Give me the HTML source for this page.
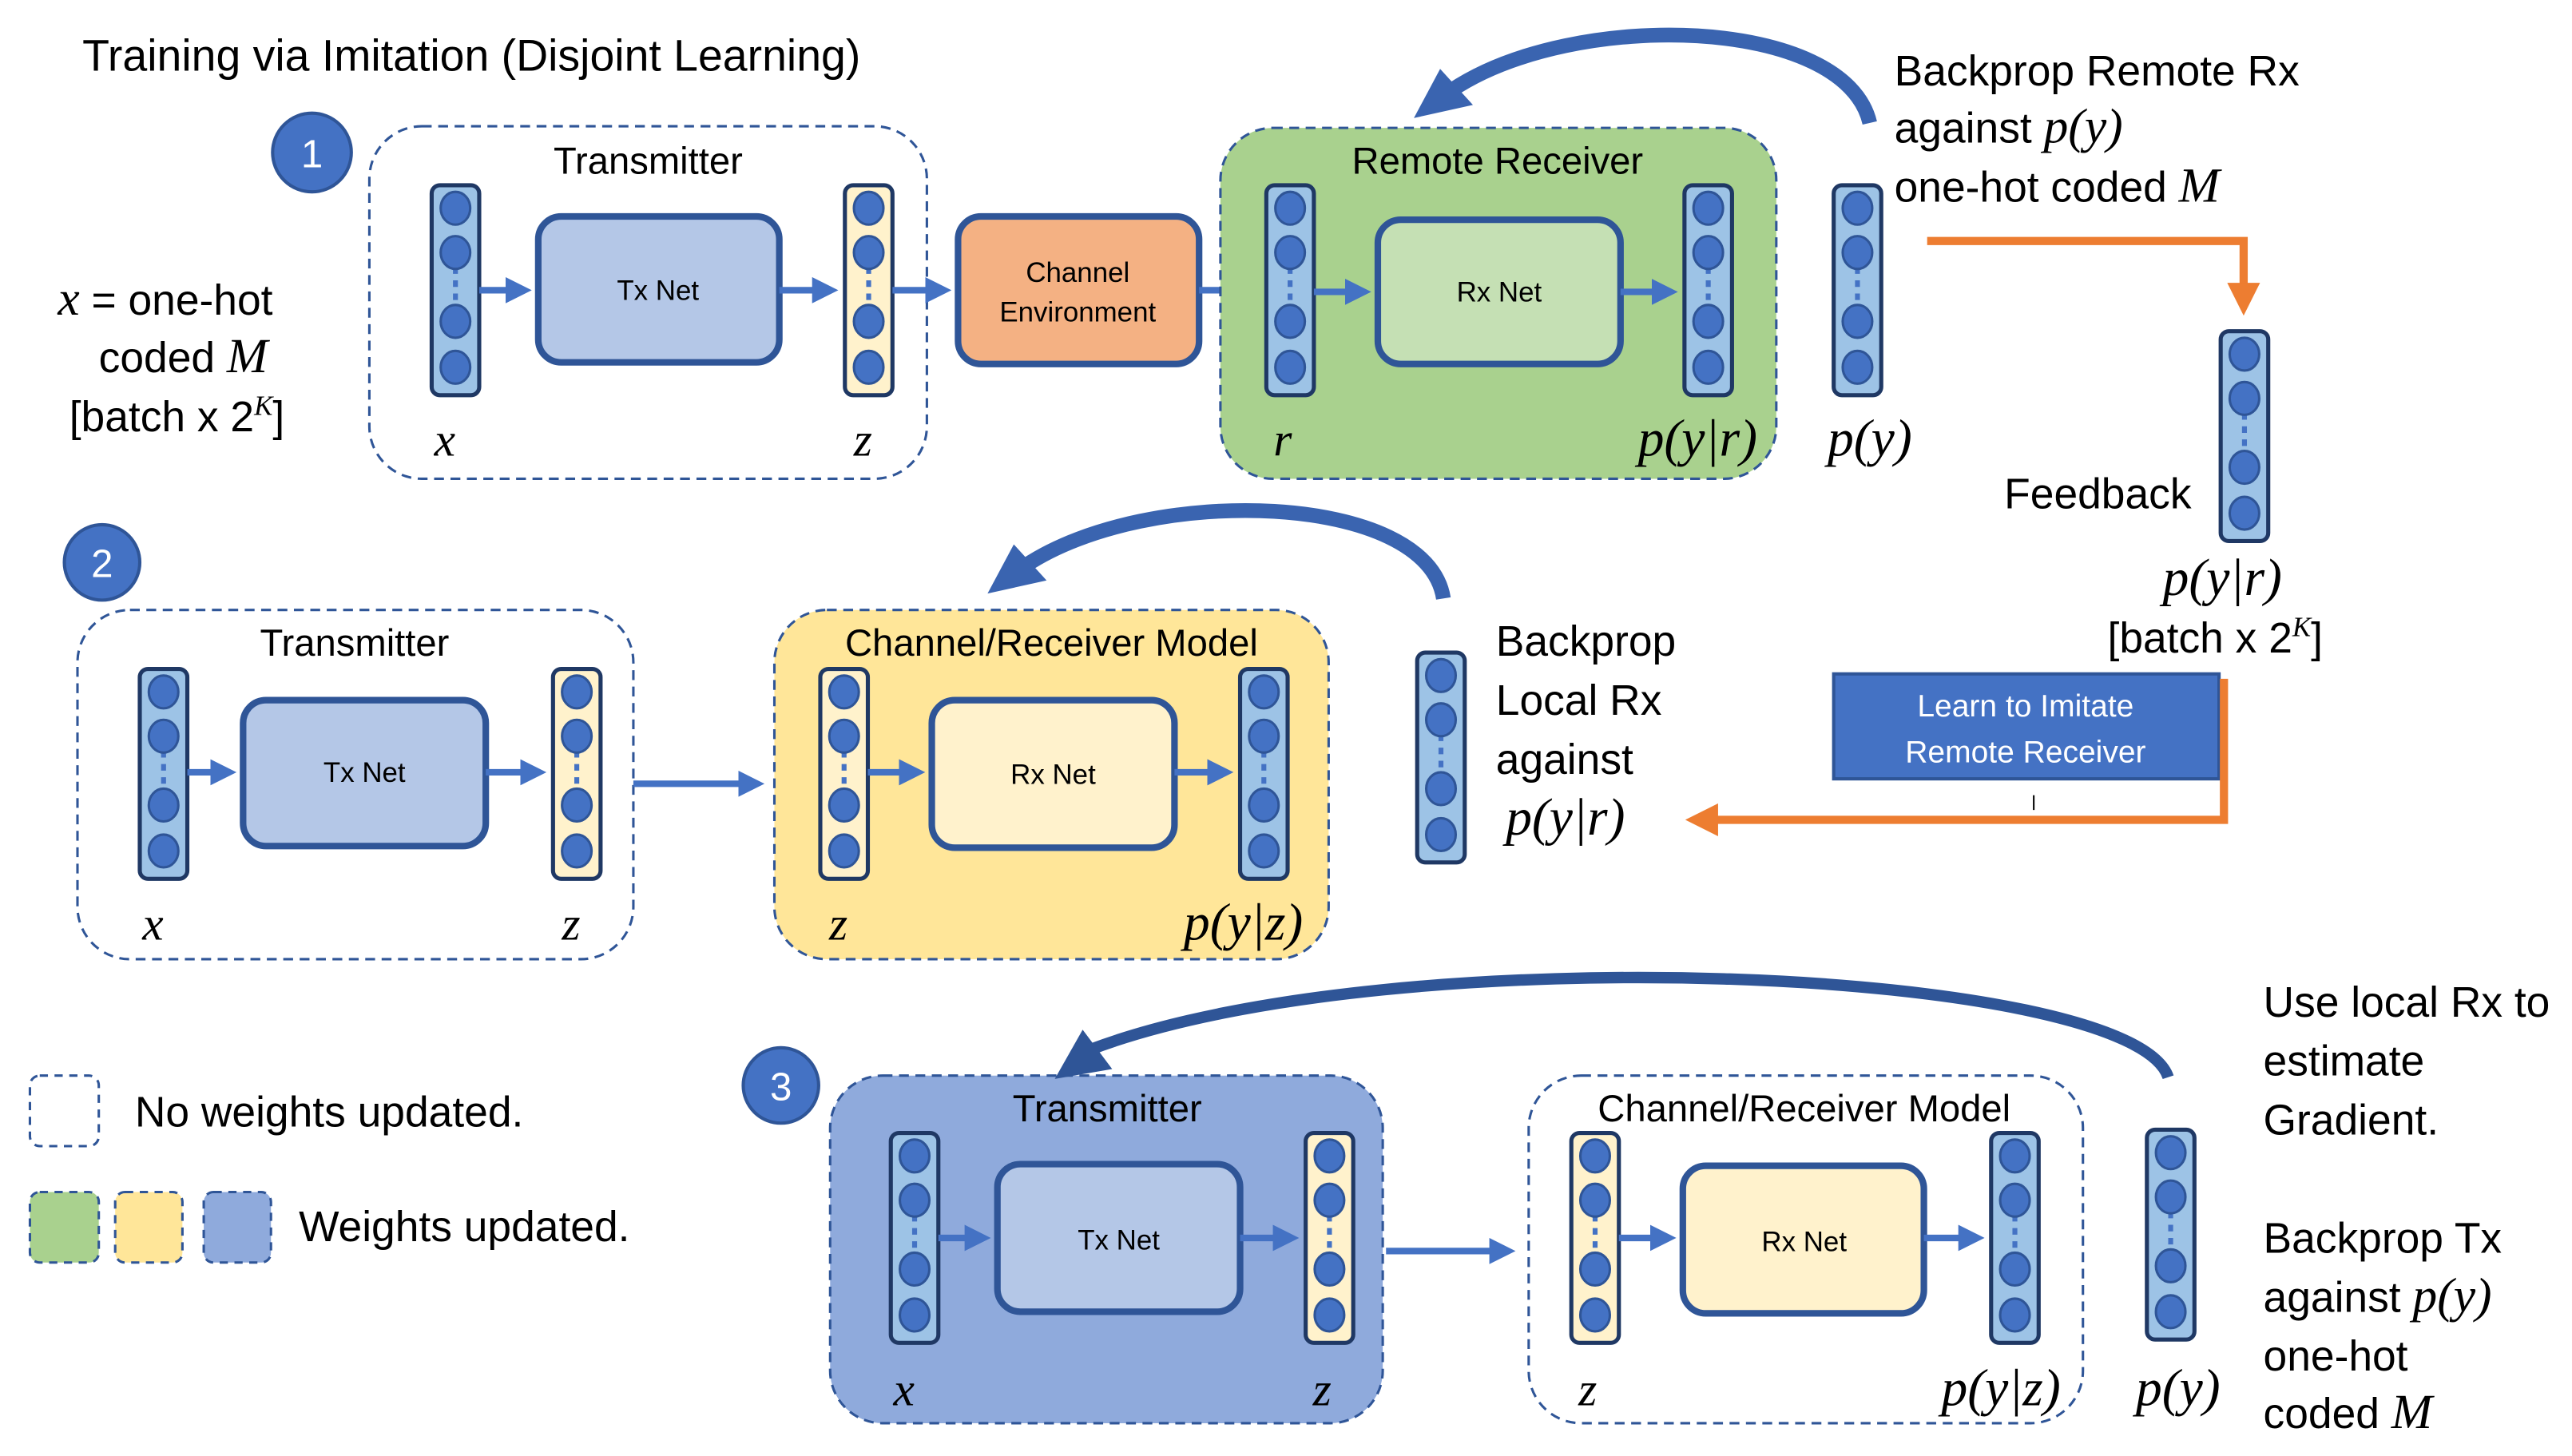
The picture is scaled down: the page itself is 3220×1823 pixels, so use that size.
<!DOCTYPE html>
<html><head><meta charset="utf-8"><style>
html,body{margin:0;padding:0;background:#fff}
svg{display:block}
text{font-family:"Liberation Sans",sans-serif;fill:#000}
.m{font-family:"Liberation Serif",serif;font-style:italic}
</style></head><body>
<svg width="3220" height="1823" viewBox="0 0 1568 888" xmlns="http://www.w3.org/2000/svg">
<defs>
<g id="vb">
<rect x="0" y="0" width="29" height="128" rx="5" fill="#9dc3e6" stroke="#1f3864" stroke-width="2.5"/>
<line x1="14.5" y1="50" x2="14.5" y2="74" stroke="#4472c4" stroke-width="3" stroke-dasharray="4,4"/>
<ellipse cx="14.5" cy="14" rx="9" ry="10" fill="#4472c4" stroke="#2f5597" stroke-width="1.5"/>
<ellipse cx="14.5" cy="41" rx="9" ry="10" fill="#4472c4" stroke="#2f5597" stroke-width="1.5"/>
<ellipse cx="14.5" cy="83" rx="9" ry="10" fill="#4472c4" stroke="#2f5597" stroke-width="1.5"/>
<ellipse cx="14.5" cy="111" rx="9" ry="10" fill="#4472c4" stroke="#2f5597" stroke-width="1.5"/>
</g>
<g id="vy">
<rect x="0" y="0" width="29" height="128" rx="5" fill="#fff2cc" stroke="#1f3864" stroke-width="2.5"/>
<line x1="14.5" y1="50" x2="14.5" y2="74" stroke="#4472c4" stroke-width="3" stroke-dasharray="4,4"/>
<ellipse cx="14.5" cy="14" rx="9" ry="10" fill="#4472c4" stroke="#2f5597" stroke-width="1.5"/>
<ellipse cx="14.5" cy="41" rx="9" ry="10" fill="#4472c4" stroke="#2f5597" stroke-width="1.5"/>
<ellipse cx="14.5" cy="83" rx="9" ry="10" fill="#4472c4" stroke="#2f5597" stroke-width="1.5"/>
<ellipse cx="14.5" cy="111" rx="9" ry="10" fill="#4472c4" stroke="#2f5597" stroke-width="1.5"/>
</g>
<marker id="ab" markerWidth="4" markerHeight="4" refX="2.5" refY="2" orient="auto" markerUnits="strokeWidth"><path d="M0,0 L4,2 L0,4 z" fill="#4472c4"/></marker>
<marker id="ao" markerWidth="4" markerHeight="4" refX="2.5" refY="2" orient="auto" markerUnits="strokeWidth"><path d="M0,0 L4,2 L0,4 z" fill="#ed7d31"/></marker>
</defs>

<text x="50" y="43" font-size="27">Training via Imitation (Disjoint Learning)</text>

<!-- Section 1 -->
<circle cx="190" cy="93" r="24" fill="#4472c4" stroke="#2f5597" stroke-width="2"/>
<text x="190" y="102" font-size="24" text-anchor="middle" style="fill:#fff">1</text>
<text x="35" y="192" font-size="26"><tspan class="m" font-size="30">x</tspan>  = one-hot</text>
<text x="60" y="227" font-size="26">coded <tspan class="m" font-size="30">M</tspan></text>
<text x="42" y="263" font-size="26">[batch x 2<tspan class="m" font-size="17" dy="-10">K</tspan><tspan dy="10">]</tspan></text>

<rect x="225" y="77" width="340" height="215" rx="32" fill="none" stroke="#2f5597" stroke-width="1.5" stroke-dasharray="6,4"/>
<text x="395" y="106" font-size="23" text-anchor="middle">Transmitter</text>
<use href="#vb" x="263" y="113"/>
<rect x="328" y="132" width="147" height="89" rx="14" fill="#b4c7e7" stroke="#2f5597" stroke-width="4"/>
<text x="401" y="183" font-size="17" text-anchor="middle">Tx Net</text>
<use href="#vy" x="515" y="113"/>
<text x="271" y="278" font-size="29" class="m" text-anchor="middle">x</text>
<text x="526" y="278" font-size="29" class="m" text-anchor="middle">z</text>
<line x1="292" y1="177" x2="318" y2="177" stroke="#4472c4" stroke-width="4" marker-end="url(#ab)"/>
<line x1="475" y1="177" x2="505" y2="177" stroke="#4472c4" stroke-width="4" marker-end="url(#ab)"/>
<line x1="544" y1="177" x2="574" y2="177" stroke="#4472c4" stroke-width="4" marker-end="url(#ab)"/>
<rect x="584" y="132" width="147" height="90" rx="14" fill="#f4b183" stroke="#2f5597" stroke-width="4"/>
<text x="657" y="172" font-size="17" text-anchor="middle">Channel</text>
<text x="657" y="196" font-size="17" text-anchor="middle">Environment</text>
<line x1="731" y1="177" x2="762" y2="177" stroke="#4472c4" stroke-width="4" marker-end="url(#ab)"/>

<rect x="744" y="78" width="339" height="214" rx="32" fill="#a9d18e" stroke="#2f5597" stroke-width="1.5" stroke-dasharray="6,4"/>
<text x="913" y="106" font-size="23" text-anchor="middle">Remote Receiver</text>
<use href="#vb" x="772" y="113"/>
<rect x="840" y="134" width="148" height="88" rx="14" fill="#c5e0b4" stroke="#2f5597" stroke-width="4"/>
<text x="914" y="184" font-size="17" text-anchor="middle">Rx Net</text>
<use href="#vb" x="1027" y="113"/>
<line x1="801" y1="178" x2="830" y2="178" stroke="#4472c4" stroke-width="4" marker-end="url(#ab)"/>
<line x1="988" y1="178" x2="1017" y2="178" stroke="#4472c4" stroke-width="4" marker-end="url(#ab)"/>
<text x="782" y="278" font-size="29" class="m" text-anchor="middle">r</text>
<text x="1035" y="278" font-size="32" class="m" text-anchor="middle">p(y|r)</text>
<use href="#vb" x="1118" y="113"/>
<text x="1140" y="278" font-size="32" class="m" text-anchor="middle">p(y)</text>

<path d="M1140,75 C1125,10 960,5 885,55" fill="none" stroke="#3a64b0" stroke-width="9"/>
<polygon points="862,72 878,42 898,64" fill="#3a64b0"/>
<text x="1155" y="52" font-size="26">Backprop Remote Rx</text>
<text x="1155" y="87" font-size="26">against <tspan class="m" font-size="30">p(y)</tspan></text>
<text x="1155" y="123" font-size="26">one-hot coded <tspan class="m" font-size="30">M</tspan></text>
<polyline points="1175,147 1368,147 1368,185" fill="none" stroke="#ed7d31" stroke-width="5" marker-end="url(#ao)"/>
<use href="#vb" x="1354" y="202"/>
<text x="1222" y="310" font-size="26">Feedback</text>
<text x="1355" y="363" font-size="32" class="m" text-anchor="middle">p(y|r)</text>
<text x="1285" y="398" font-size="26">[batch x 2<tspan class="m" font-size="17" dy="-10">K</tspan><tspan dy="10">]</tspan></text>

<!-- Section 2 -->
<circle cx="62" cy="343" r="23" fill="#4472c4" stroke="#2f5597" stroke-width="2"/>
<text x="62" y="352" font-size="24" text-anchor="middle" style="fill:#fff">2</text>
<rect x="47" y="372" width="339" height="213" rx="32" fill="none" stroke="#2f5597" stroke-width="1.5" stroke-dasharray="6,4"/>
<text x="216" y="400" font-size="23" text-anchor="middle">Transmitter</text>
<use href="#vb" x="85" y="408"/>
<rect x="148" y="427" width="148" height="89" rx="14" fill="#b4c7e7" stroke="#2f5597" stroke-width="4"/>
<text x="222" y="477" font-size="17" text-anchor="middle">Tx Net</text>
<use href="#vy" x="337" y="408"/>
<line x1="114" y1="471" x2="138" y2="471" stroke="#4472c4" stroke-width="4" marker-end="url(#ab)"/>
<line x1="296" y1="471" x2="327" y2="471" stroke="#4472c4" stroke-width="4" marker-end="url(#ab)"/>
<text x="93" y="573" font-size="29" class="m" text-anchor="middle">x</text>
<text x="348" y="573" font-size="29" class="m" text-anchor="middle">z</text>
<line x1="386" y1="478" x2="460" y2="478" stroke="#4472c4" stroke-width="4" marker-end="url(#ab)"/>

<rect x="472" y="372" width="338" height="213" rx="32" fill="#ffe699" stroke="#2f5597" stroke-width="1.5" stroke-dasharray="6,4"/>
<text x="641" y="400" font-size="23" text-anchor="middle">Channel/Receiver Model</text>
<use href="#vy" x="500" y="408"/>
<rect x="568" y="427" width="148" height="90" rx="14" fill="#fff2cc" stroke="#2f5597" stroke-width="4"/>
<text x="642" y="478" font-size="17" text-anchor="middle">Rx Net</text>
<use href="#vb" x="756" y="408"/>
<line x1="529" y1="471" x2="558" y2="471" stroke="#4472c4" stroke-width="4" marker-end="url(#ab)"/>
<line x1="716" y1="471" x2="746" y2="471" stroke="#4472c4" stroke-width="4" marker-end="url(#ab)"/>
<text x="511" y="573" font-size="29" class="m" text-anchor="middle">z</text>
<text x="758" y="573" font-size="32" class="m" text-anchor="middle">p(y|z)</text>

<path d="M880,365 C870,300 700,295 625,345" fill="none" stroke="#3a64b0" stroke-width="9"/>
<polygon points="602,362 618,332 638,354" fill="#3a64b0"/>
<use href="#vb" x="864" y="398"/>
<text x="912" y="400" font-size="26">Backprop</text>
<text x="912" y="436" font-size="26">Local Rx</text>
<text x="912" y="472" font-size="26">against</text>
<text x="918" y="509" font-size="32" class="m">p(y|r)</text>
<rect x="1118" y="411" width="235" height="64" fill="#4472c4" stroke="#2f5597" stroke-width="2"/>
<text x="1235" y="437" font-size="19" text-anchor="middle" style="fill:#fff">Learn to Imitate</text>
<text x="1235" y="465" font-size="19" text-anchor="middle" style="fill:#fff">Remote Receiver</text>
<polyline points="1356,414 1356,500 1035,500" fill="none" stroke="#ed7d31" stroke-width="5" marker-end="url(#ao)"/>
<line x1="1240" y1="485" x2="1240" y2="494" stroke="#000" stroke-width="1"/>

<!-- Legend -->
<rect x="18" y="656" width="42" height="43" rx="6" fill="none" stroke="#2f5597" stroke-width="1.5" stroke-dasharray="5,4"/>
<text x="82" y="687" font-size="26">No weights updated.</text>
<rect x="18" y="727" width="42" height="43" rx="6" fill="#a9d18e" stroke="#2f5597" stroke-width="1.5" stroke-dasharray="5,4"/>
<rect x="70" y="727" width="41" height="43" rx="6" fill="#ffe699" stroke="#2f5597" stroke-width="1.5" stroke-dasharray="5,4"/>
<rect x="124" y="727" width="41" height="43" rx="6" fill="#8faadc" stroke="#2f5597" stroke-width="1.5" stroke-dasharray="5,4"/>
<text x="182" y="757" font-size="26">Weights updated.</text>

<!-- Section 3 -->
<circle cx="476" cy="662" r="23" fill="#4472c4" stroke="#2f5597" stroke-width="2"/>
<text x="476" y="671" font-size="24" text-anchor="middle" style="fill:#fff">3</text>
<rect x="506" y="656" width="337" height="212" rx="32" fill="#8faadc" stroke="#2f5597" stroke-width="1.5" stroke-dasharray="6,4"/>
<text x="675" y="684" font-size="23" text-anchor="middle">Transmitter</text>
<use href="#vb" x="543" y="691"/>
<rect x="608" y="710" width="148" height="90" rx="14" fill="#b4c7e7" stroke="#2f5597" stroke-width="4"/>
<text x="682" y="762" font-size="17" text-anchor="middle">Tx Net</text>
<use href="#vy" x="796" y="691"/>
<line x1="572" y1="755" x2="598" y2="755" stroke="#4472c4" stroke-width="4" marker-end="url(#ab)"/>
<line x1="756" y1="755" x2="786" y2="755" stroke="#4472c4" stroke-width="4" marker-end="url(#ab)"/>
<text x="551" y="857" font-size="29" class="m" text-anchor="middle">x</text>
<text x="806" y="857" font-size="29" class="m" text-anchor="middle">z</text>
<line x1="845" y1="763" x2="918" y2="763" stroke="#4472c4" stroke-width="4" marker-end="url(#ab)"/>

<rect x="932" y="656" width="338" height="212" rx="32" fill="none" stroke="#2f5597" stroke-width="1.5" stroke-dasharray="6,4"/>
<text x="1100" y="684" font-size="23" text-anchor="middle">Channel/Receiver Model</text>
<use href="#vy" x="958" y="691"/>
<rect x="1026" y="711" width="147" height="90" rx="14" fill="#fff2cc" stroke="#2f5597" stroke-width="4"/>
<text x="1100" y="763" font-size="17" text-anchor="middle">Rx Net</text>
<use href="#vb" x="1214" y="691"/>
<line x1="987" y1="755" x2="1016" y2="755" stroke="#4472c4" stroke-width="4" marker-end="url(#ab)"/>
<line x1="1173" y1="755" x2="1204" y2="755" stroke="#4472c4" stroke-width="4" marker-end="url(#ab)"/>
<text x="968" y="857" font-size="29" class="m" text-anchor="middle">z</text>
<text x="1220" y="857" font-size="32" class="m" text-anchor="middle">p(y|z)</text>
<use href="#vb" x="1309" y="689"/>
<text x="1328" y="857" font-size="32" class="m" text-anchor="middle">p(y)</text>

<path d="M1322,657 C1300,590 850,570 665,640" fill="none" stroke="#2f5597" stroke-width="7"/>
<polygon points="643,658 660,628 678,652" fill="#2f5597"/>
<text x="1380" y="620" font-size="26">Use local Rx to</text>
<text x="1380" y="656" font-size="26">estimate</text>
<text x="1380" y="692" font-size="26">Gradient.</text>
<text x="1380" y="764" font-size="26">Backprop Tx</text>
<text x="1380" y="800" font-size="26">against <tspan class="m" font-size="30">p(y)</tspan></text>
<text x="1380" y="836" font-size="26">one-hot</text>
<text x="1380" y="871" font-size="26">coded <tspan class="m" font-size="30">M</tspan></text>
</svg>
</body></html>
